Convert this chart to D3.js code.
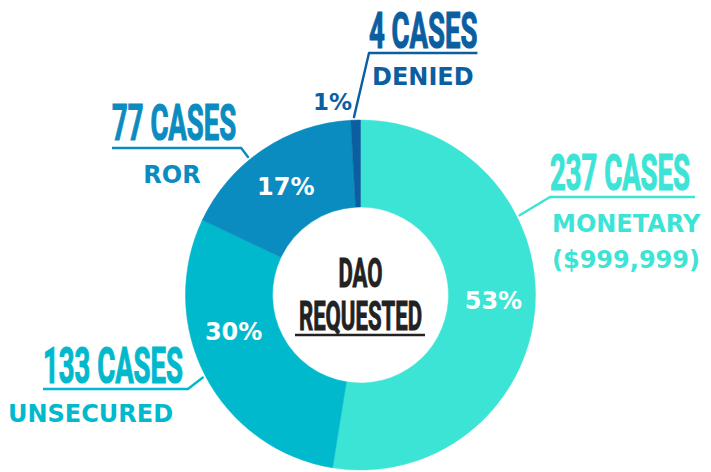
<!DOCTYPE html>
<html>
<head>
<meta charset="utf-8">
<script src="https://cdn.jsdelivr.net/npm/d3@7"></script>
<style>
  body { margin: 0; background: #fff; }
  svg { display: block; }
</style>
</head>
<body>
<svg id="chart" width="711" height="472"></svg>
<script>
// data
var categories = ["MONETARY", "UNSECURED", "ROR", "DENIED"];
var cases = [237, 133, 77, 4];
var percentLabels = ["53%", "30%", "17%", "1%"];
var subLabels = [["MONETARY", "($999,999)"], ["UNSECURED"], ["ROR"], ["DENIED"]];
var colors = ["#3ce4d5", "#00b9cc", "#0a8cc0", "#0b5ea0"];
var centerTitle = ["DAO", "REQUESTED"];

// layout
var cx = 360.5, cy = 295, outerR = 175, innerR = 88;
var condensed = 0.55;
// where each label sits: big text start / baseline, leader angle (deg), sub text position
var labelLayout = [
  {x: 550, y: 190, lineY: 197, side: "left",  angle: 63.4,  subX: 552, subY: [232, 268], subAnchor: "start"},
  {x: 43,  y: 383, lineY: 389, side: "right", angle: 242.4, subX: 8,   subY: [422],      subAnchor: "start"},
  {x: 112, y: 140, lineY: 148, side: "right", angle: 320.8, subX: 172, subY: [183],      subAnchor: "middle"},
  {x: 369, y: 48,  lineY: 53,  side: "left",  angle: 357.9, subX: 372, subY: [85],       subAnchor: "start"}
];
var pctAngle = [92, 254, 325.5, null];
var pctRadius = [133, 132, 132, null];

var svg = d3.select("#chart");
var g = svg.append("g").attr("transform", "translate(" + cx + "," + cy + ")");

var pie = d3.pie().sort(null).value(function(d){ return d; });
var arcs = pie(cases);
var arc = d3.arc().innerRadius(innerR).outerRadius(outerR);

g.selectAll("path.slice")
  .data(arcs)
  .enter()
  .append("path")
  .attr("class", "slice")
  .attr("d", arc)
  .attr("fill", function(d, i){ return colors[i]; })
  .attr("stroke", function(d, i){ return colors[i]; })
  .attr("stroke-width", 0.5);

function polar(angleDeg, r)
{
  var a = angleDeg * Math.PI / 180;
  return [r * Math.sin(a), -r * Math.cos(a)];
}

// percentages inside the ring
g.selectAll("text.pct")
  .data(arcs.filter(function(d, i){ return pctAngle[i] != null; }))
  .enter()
  .append("text")
  .attr("class", "pct")
  .attr("x", function(d){ return polar(pctAngle[d.index], pctRadius[d.index])[0]; })
  .attr("y", function(d){ return polar(pctAngle[d.index], pctRadius[d.index])[1] + 9; })
  .attr("text-anchor", "middle")
  .attr("font-family", "DejaVu Sans")
  .attr("font-weight", "bold")
  .attr("font-size", "24px")
  .attr("fill", "#fff")
  .text(function(d){ return percentLabels[d.index]; });

// small slice percentage sits outside
svg.append("text")
  .attr("x", 352)
  .attr("y", 110)
  .attr("text-anchor", "end")
  .attr("font-family", "DejaVu Sans")
  .attr("font-weight", "bold")
  .attr("font-size", "23px")
  .attr("fill", colors[3])
  .text(percentLabels[3]);

// outer labels
for (var i = 0; i < categories.length; i++)
{
  var L = labelLayout[i];
  var big = svg.append("g")
    .attr("transform", "translate(" + L.x + "," + L.y + ") scale(" + condensed + ",1)");
  var t = big.append("text")
    .attr("font-family", "Roboto")
    .attr("font-weight", "bold")
    .attr("font-size", "50px")
    .attr("fill", colors[i])
    .attr("stroke", colors[i])
    .attr("stroke-width", 1.2)
    .text(cases[i] + " CASES");
  var w = t.node().getComputedTextLength() * condensed;

  var x0 = L.x, x1 = L.x + w + (i == 3 ? 0 : 5);
  svg.append("line")
    .attr("x1", x0).attr("x2", x1)
    .attr("y1", L.lineY).attr("y2", L.lineY)
    .attr("stroke", colors[i])
    .attr("stroke-width", 2.6);

  var p = polar(L.angle, outerR + 3);
  var sx = L.side == "left" ? x0 : x1;
  svg.append("line")
    .attr("x1", sx).attr("y1", L.lineY)
    .attr("x2", cx + p[0]).attr("y2", cy + p[1])
    .attr("stroke", colors[i])
    .attr("stroke-width", 2.4)
    .attr("stroke-linecap", "round");

  for (var j = 0; j < subLabels[i].length; j++)
  {
    svg.append("text")
      .attr("x", L.subX)
      .attr("y", L.subY[j])
      .attr("text-anchor", L.subAnchor)
      .attr("font-family", "DejaVu Sans")
      .attr("font-weight", "bold")
      .attr("font-size", "24px")
      .attr("fill", colors[i])
      .text(subLabels[i][j]);
  }
}

// center title, one text block with two lines
var title = svg.append("g")
  .attr("transform", "translate(" + cx + ",287) scale(0.54,1)")
  .append("text")
  .attr("text-anchor", "middle")
  .attr("font-family", "Roboto")
  .attr("font-weight", "bold")
  .attr("font-size", "41px")
  .attr("fill", "#222")
  .attr("stroke", "#222")
  .attr("stroke-width", 1);
title.selectAll("tspan")
  .data(centerTitle)
  .enter()
  .append("tspan")
  .attr("x", 0)
  .attr("dy", function(d, i){ return i == 0 ? 0 : 43; })
  .text(function(d){ return d; });

svg.append("line")
  .attr("x1", 295).attr("x2", 425)
  .attr("y1", 335).attr("y2", 335)
  .attr("stroke", "#222")
  .attr("stroke-width", 2.4);
</script>
</body>
</html>
